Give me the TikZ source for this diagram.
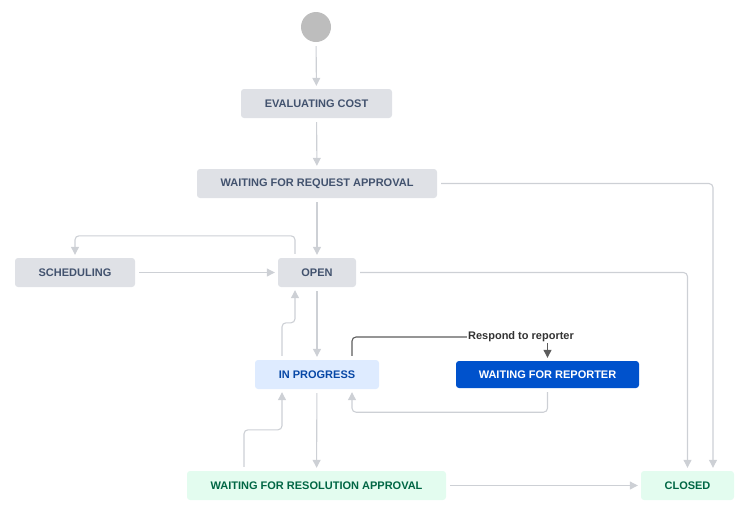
\documentclass[tikz,border=0pt]{standalone}
\usepackage{fontspec}
\setmainfont{Liberation Sans}
\usepackage{xcolor}
\usetikzlibrary{arrows.meta,positioning,calc}

\definecolor{boxgray}{HTML}{DFE1E6}
\definecolor{textgray}{HTML}{42526E}
\definecolor{boxblue}{HTML}{DEEBFF}
\definecolor{textblue}{HTML}{0747A6}
\definecolor{darkblue}{HTML}{0052CC}
\definecolor{boxgreen}{HTML}{E3FCEF}
\definecolor{textgreen}{HTML}{006644}
\definecolor{linegray}{HTML}{CDD0D5}
\definecolor{startgray}{HTML}{BDBDBD}
\definecolor{labelgray}{HTML}{333333}

\begin{document}
\begin{tikzpicture}[
  x=1pt, y=-1pt,
  font=\fontsize{11}{13}\selectfont\bfseries,
  statebox/.style={rounded corners=3pt, minimum height=29pt, inner sep=0pt, align=center, fill=boxgray, text=textgray},
  progressbox/.style={statebox, fill=boxblue, text=textblue},
  reporterbox/.style={statebox, fill=darkblue, text=white, minimum height=27pt},
  donebox/.style={statebox, fill=boxgreen, text=textgreen},
  flow/.style={draw=linegray, line width=1.1pt, rounded corners=4pt, shorten <=4pt, shorten >=3pt},
  darkflow/.style={draw=labelgray!80, line width=1.1pt, rounded corners=4pt},
  >={Triangle[width=8pt,length=8pt]}
]
  \useasboundingbox (0,0) rectangle (747,512);

  \node[circle, fill=startgray, minimum size=30pt, inner sep=0pt] (start) at (316,27) {};
  \node[statebox, minimum width=151pt] (evalcost) at (316.5,103.5) {EVALUATING COST};
  \node[statebox, minimum width=240pt] (reqappr) at (317,183.5) {WAITING FOR REQUEST APPROVAL};
  \node[statebox, minimum width=120pt] (sched) at (75,272.5) {SCHEDULING};
  \node[statebox, minimum width=78pt] (open) at (317,272.5) {OPEN};
  \node[progressbox, minimum width=124pt] (inprog) at (317,374.5) {IN PROGRESS};
  \node[reporterbox, minimum width=183pt] (waitrep) at (547.5,374.5) {WAITING FOR REPORTER};
  \node[donebox, minimum width=259pt] (resappr) at (316.5,485.5) {WAITING FOR RESOLUTION APPROVAL};
  \node[donebox, minimum width=93pt] (closed) at (687.5,485.5) {CLOSED};
  \node[text=labelgray, inner sep=1pt] (respond) at (521,337) {Respond to reporter};

  \draw[flow, ->] (start) -- (evalcost);
  \draw[flow, ->] (evalcost) -- (reqappr);
  \draw[flow, ->] (reqappr.east) -| ([xshift=25.5pt]closed.north);
  \draw[flow, ->] (reqappr) -- (open);
  \draw[flow, ->] ([xshift=-22pt]open.north) -- ++(0,-22) -| (sched.north);
  \draw[flow, ->] (sched) -- (open);
  \draw[flow, ->] (open.east) -| (closed.north);
  \draw[flow, ->] (open) -- (inprog);
  \draw[flow, ->] ([xshift=-35pt]inprog.north) -- ++(0,-37) -| ([xshift=-22pt]open.south);
  \draw[darkflow, shorten <=4pt] ([xshift=35pt]inprog.north) |- (respond.west);
  \draw[darkflow, ->, shorten >=3pt] (respond.south -| waitrep.north) -- (waitrep.north);
  \draw[flow, ->] (waitrep.south) -- ++(0,24) -| ([xshift=35pt]inprog.south);
  \draw[flow, ->] (inprog) -- (resappr);
  \draw[flow, ->] ([xshift=-72.5pt]resappr.north) -- ++(0,-41) -| ([xshift=-35pt]inprog.south);
  \draw[flow, ->] (resappr) -- (closed);
\end{tikzpicture}
\end{document}
